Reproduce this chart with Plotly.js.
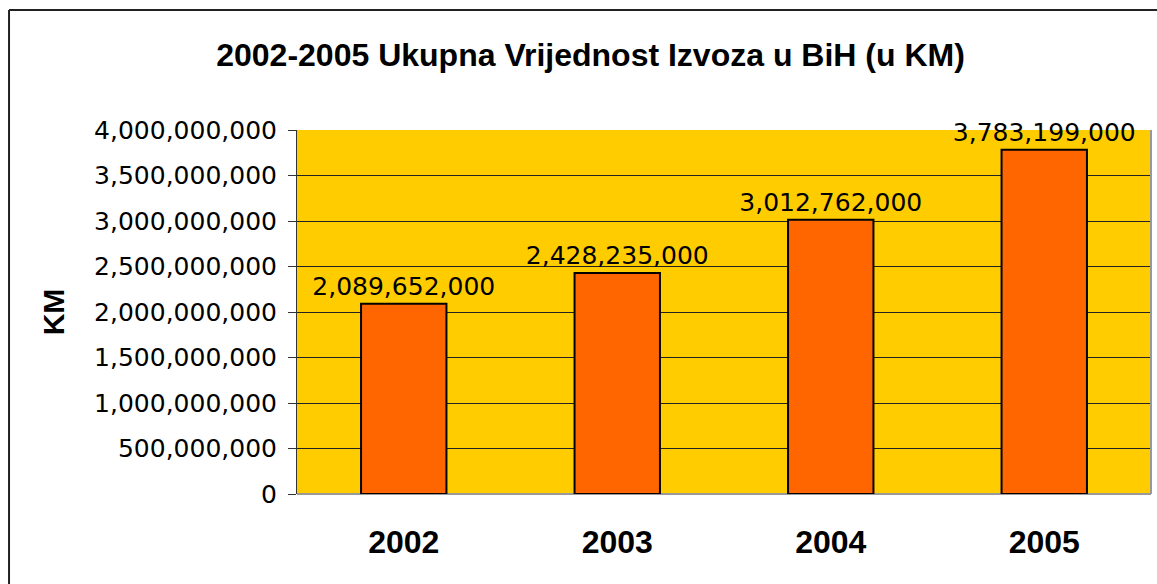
<!DOCTYPE html>
<html>
<head>
<meta charset="utf-8">
<script src="https://cdn.plot.ly/plotly-3.0.1.min.js"></script>
<style>
html,body{margin:0;padding:0;background:#fff;}
#chart{width:1157px;height:584px;}
</style>
</head>
<body>
<div id="chart"></div>
<script>
const years = ['2002', '2003', '2004', '2005'];
const values = [2089652000, 2428235000, 3012762000, 3783199000];
const valueLabels = ['2,089,652,000', '2,428,235,000', '3,012,762,000', '3,783,199,000'];
const yTickVals = [0, 500000000, 1000000000, 1500000000, 2000000000, 2500000000, 3000000000, 3500000000, 4000000000];

const trace = {
  type: 'bar',
  x: years,
  y: values,
  text: valueLabels,
  textposition: 'outside',
  cliponaxis: false,
  constraintext: 'none',
  textfont: {family: 'DejaVu Sans, Verdana, sans-serif', size: 25, color: '#000'},
  marker: {color: '#FF6600', line: {color: '#000', width: 2}},
  hoverinfo: 'none'
};

const layout = {
  width: 1157,
  height: 584,
  margin: {l: 297, r: 6, t: 130, b: 90},
  paper_bgcolor: '#ffffff',
  plot_bgcolor: '#FFCC00',
  bargap: 0.6,
  showlegend: false,
  title: {
    text: '<b>2002-2005 Ukupna Vrijednost Izvoza u BiH (u KM)</b>',
    font: {family: 'Liberation Sans, Arial, sans-serif', size: 32, color: '#000'},
    x: 0.5104, xref: 'container', xanchor: 'center',
    y: 0.906, yref: 'container', yanchor: 'middle'
  },
  xaxis: {
    type: 'category',
    tickfont: {family: 'Liberation Sans, Arial, sans-serif', size: 32, color: '#000'},
    tickprefix: '<b>', ticksuffix: '</b>',
    ticks: '',
    showline: false,
    showgrid: false,
    ticklabelstandoff: 26
  },
  yaxis: {
    range: [0, 4000000000],
    tickvals: yTickVals,
    tickformat: ',d',
    tickfont: {family: 'DejaVu Sans, Verdana, sans-serif', size: 25, color: '#000'},
    ticks: 'outside',
    ticklen: 8,
    tickcolor: '#333',
    tickwidth: 1,
    ticklabelstandoff: 6,
    showline: true,
    linecolor: '#333',
    linewidth: 1,
    showgrid: true,
    gridcolor: '#222',
    gridwidth: 1,
    zeroline: false,
    title: {
      text: '<b>KM</b>',
      font: {family: 'Liberation Sans, Arial, sans-serif', size: 30, color: '#000'},
      standoff: 20
    }
  },
  shapes: [
    {type: 'line', xref: 'paper', yref: 'paper', x0: 1, x1: 1, y0: 0, y1: 1, line: {color: '#999', width: 2}, layer: 'above'},
    {type: 'line', xref: 'paper', yref: 'paper', x0: 0, x1: 1, y0: 0, y1: 0, line: {color: '#999', width: 2}, layer: 'below'},
    {type: 'line', xref: 'paper', yref: 'paper', x0: -0.3372, x1: -0.3372, y0: -0.3, y1: 1.3297, line: {color: '#222', width: 2}},
    {type: 'line', xref: 'paper', yref: 'paper', x0: -0.3372, x1: 1.02, y0: 1.3297, y1: 1.3297, line: {color: '#222', width: 2}}
  ]
};

Plotly.newPlot('chart', [trace], layout, {staticPlot: true, displayModeBar: false});
</script>
</body>
</html>
